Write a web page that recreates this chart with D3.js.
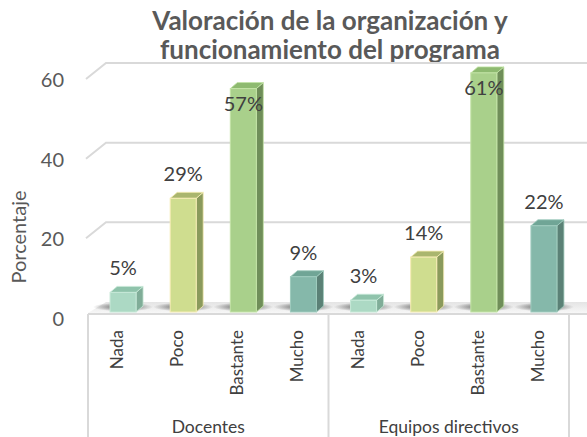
<!DOCTYPE html>
<html>
<head>
<meta charset="utf-8">
<script src="https://cdn.jsdelivr.net/npm/d3@7"></script>
<style>
  html, body { margin: 0; padding: 0; background: #fff; }
  svg { display: block; font-family: Lato, "Open Sans", sans-serif; }
</style>
</head>
<body>
<div id="chart"></div>
<script>
// Données
const groups = ["Docentes", "Equipos directivos"];
const categories = ["Nada", "Poco", "Bastante", "Mucho"];
const docentes = [5, 29, 57, 9];
const equipos = [3, 14, 61, 22];
const yTicks = [0, 20, 40, 60];

const width = 587, height = 437;
const faces = {
    Nada:     { front: "#acd9c4", side: "#80ad98", top: "#8fc3ab", edge: "#c6e8d7" },
    Poco:     { front: "#cfdd8f", side: "#8a9a5c", top: "#aab66e", edge: "#f6ecb4" },
    Bastante: { front: "#a9d08b", side: "#6f8e59", top: "#8eba70", edge: "#c3e3a6" },
    Mucho:    { front: "#85b8aa", side: "#5b8176", top: "#70a596", edge: "#9fcbbe" }
};

const svg = d3.select("#chart").append("svg")
    .attr("width", width)
    .attr("height", height);

const defs = svg.append("defs");
const shadow = defs.append("radialGradient").attr("id", "shadow");
shadow.append("stop").attr("offset", "0%").attr("stop-color", "#222").attr("stop-opacity", 0.75);
shadow.append("stop").attr("offset", "100%").attr("stop-color", "#222").attr("stop-opacity", 0);
const floorGrad = defs.append("linearGradient").attr("id", "floor")
    .attr("x1", 0).attr("y1", 0).attr("x2", 0).attr("y2", 1);
floorGrad.append("stop").attr("offset", "0%").attr("stop-color", "#e4e4e4");
floorGrad.append("stop").attr("offset", "100%").attr("stop-color", "#f7f7f7");

// Échelles (mur du fond, barres, étiquettes avant)
const xGroup = d3.scaleBand().domain(groups).range([88, 569]);
const xCat = d3.scaleBand().domain(categories).range([0, xGroup.bandwidth()]);
const yBack = d3.scaleLinear().domain([0, 60]).range([302, 63]);
const yBar = d3.scaleLinear().domain([0, 60]).range([312, 76.8]);
const slantX = 20, slantY = 16;   // profondeur du mur
const dx = 7, dy = 6;             // profondeur des barres
const barW = 26;

// Titre
svg.append("text")
    .attr("x", 330).attr("y", 0)
    .attr("text-anchor", "middle")
    .style("font-size", "26px")
    .style("font-weight", "bold")
    .attr("fill", "#595959")
    .selectAll("tspan")
    .data(["Valoración de la organización y", "funcionamiento del programa"])
    .enter().append("tspan")
    .attr("x", 330)
    .attr("y", (d, i) => 30 + i * 29)
    .text(d => d);

// Grille
yTicks.filter(v => v > 0).forEach(v => {
    const y = yBack(v);
    svg.append("polyline")
        .attr("points", `${86},${y + slantY} ${86 + slantX},${y} ${width},${y}`)
        .attr("fill", "none")
        .attr("stroke", "#d9d9d9")
        .attr("stroke-width", 2);
});

yTicks.forEach(v => {
    svg.append("text")
        .attr("x", 64)
        .attr("y", yBack(v) + slantY + 1)
        .attr("dy", "0.35em")
        .attr("text-anchor", "end")
        .style("font-size", "20px")
        .attr("fill", "#595959")
        .text(v);
});

svg.append("text")
    .attr("transform", "translate(26,237) rotate(-90)")
    .attr("text-anchor", "middle")
    .style("font-size", "20px")
    .attr("fill", "#595959")
    .text("Porcentaje");

// Sol
svg.append("polygon")
    .attr("points", `88,313 ${88 + 18},302 ${width},302 ${width},313`)
    .attr("fill", "url(#floor)");
svg.append("line")
    .attr("x1", 88).attr("x2", width).attr("y1", 314).attr("y2", 314)
    .attr("stroke", "#d9d9d9").attr("stroke-width", 2);

// Tableau des catégories
[88, xGroup.range()[0] + xGroup.bandwidth(), 569].forEach(x => {
    svg.append("line")
        .attr("x1", x).attr("x2", x).attr("y1", 314).attr("y2", height)
        .attr("stroke", "#d9d9d9").attr("stroke-width", 2);
});

const rows = [];
groups.forEach((g, gi) => {
    const vals = gi === 0 ? docentes : equipos;
    categories.forEach((c, ci) => {
        rows.push({ group: g, cat: c, value: vals[ci], cx: xGroup(g) + xCat(c) + xCat.bandwidth() / 2 });
    });
});

// Ombres
svg.selectAll(".shadow")
    .data(rows).enter().append("ellipse")
    .attr("cx", d => d.cx + 5)
    .attr("cy", 307)
    .attr("rx", 30)
    .attr("ry", 4.5)
    .attr("fill", "url(#shadow)");

// Barres 3D
const bars = svg.selectAll(".bar")
    .data(rows).enter().append("g");

bars.append("polygon")
    .attr("points", d => {
        const x1 = d.cx + 5 + barW / 2, t = yBar(d.value), b = yBar(0);
        return `${x1},${t} ${x1 + dx},${t - dy} ${x1 + dx},${b - dy} ${x1},${b}`;
    })
    .attr("fill", d => faces[d.cat].side)
    .attr("stroke", d => faces[d.cat].edge)
    .attr("stroke-width", 0.8);

bars.append("polygon")
    .attr("points", d => {
        const x0 = d.cx + 5 - barW / 2, x1 = x0 + barW, t = yBar(d.value);
        return `${x0},${t} ${x0 + dx},${t - dy} ${x1 + dx},${t - dy} ${x1},${t}`;
    })
    .attr("fill", d => faces[d.cat].top)
    .attr("stroke", d => faces[d.cat].edge)
    .attr("stroke-width", 0.8);

bars.append("rect")
    .attr("x", d => d.cx + 5 - barW / 2)
    .attr("y", d => yBar(d.value))
    .attr("width", barW)
    .attr("height", d => yBar(0) - yBar(d.value))
    .attr("fill", d => faces[d.cat].front)
    .attr("stroke", d => faces[d.cat].edge)
    .attr("stroke-width", 1);

// Étiquettes de valeurs
svg.selectAll(".label")
    .data(rows).enter().append("text")
    .attr("x", d => d.cx + 5)
    .attr("y", d => d.value > 50 ? yBar(d.value) + 15 : yBar(d.value) - 24)
    .attr("dy", "0.35em")
    .attr("text-anchor", "middle")
    .style("font-size", "20px")
    .attr("fill", "#404040")
    .text(d => d.value + "%");

// Étiquettes des catégories
svg.selectAll(".cat")
    .data(rows).enter().append("text")
    .attr("transform", d => `translate(${d.cx + 5},330) rotate(-90)`)
    .attr("text-anchor", "end")
    .style("font-size", "17px")
    .attr("fill", "#404040")
    .text(d => d.cat);

svg.selectAll(".group")
    .data(groups).enter().append("text")
    .attr("x", d => xGroup(d) + xGroup.bandwidth() / 2)
    .attr("y", 427)
    .attr("dy", "0.35em")
    .attr("text-anchor", "middle")
    .style("font-size", "17.5px")
    .attr("fill", "#404040")
    .text(d => d);
</script>
</body>
</html>
